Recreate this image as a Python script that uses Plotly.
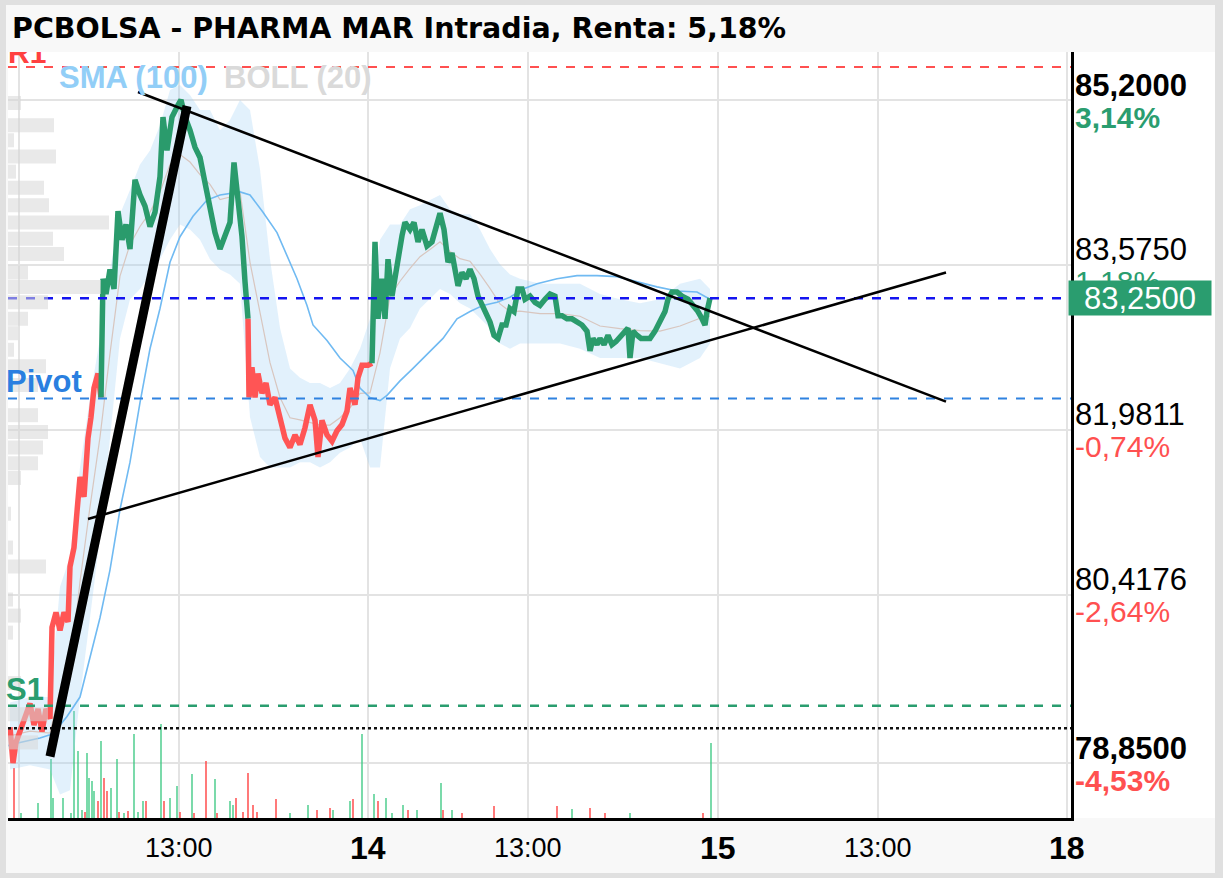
import numpy as np
import plotly.graph_objects as go

# ---------------- data (x = trading minutes since the open of day 13; one session ~524 min) ----------------
price_t = [-13.5, -9, -4.5, 1.5, 9, 16.5, 22.5, 28.5, 34.5, 40.5, 46.5, 49.5, 55.5, 61.5, 67.5, 73.5, 76.5, 82.5, 87, 91.5,
           97.5, 103.5, 108, 112.5, 118.5, 123,
           126, 130.5, 136.5, 142.5, 148.5, 154.5, 160.5, 166.5, 174, 181.5, 189, 196.5, 204, 211.5, 216, 222, 229.5, 238.5,
           243, 249, 256.5, 264, 271.5, 279, 286.5, 294, 301.5, 309, 316.5, 322.5, 328.5, 334.5, 339, 343.5,
           345, 349.5, 354, 358.5, 364.5, 370.5, 376.5, 384, 391.5, 399, 406.5, 414, 421.5, 429, 436.5, 444, 448.5, 454.5,
           462, 469.5, 477, 484.5, 492, 496.5, 504, 508.5, 514.5, 523.5, 529.5,
           531, 534, 538.5, 544.5, 549, 553.5, 559.5, 567, 574.5, 579, 586.5, 592.5, 598.5, 604.5, 612, 619.5, 625.5, 631.5,
           637.5, 643.5, 649.5, 654, 658.5, 664.5, 670.5, 676.5, 682.5, 688.5, 694.5, 700.5, 706.5, 712.5, 718.5, 724.5,
           730.5, 736.5, 742.5, 748.5, 754.5, 759, 766.5, 774, 781.5, 789, 796.5, 804, 808.5, 814.5, 822, 829.5, 837, 844.5,
           852, 856.5, 861, 867, 871.5, 877.5, 883.5, 889.5, 895.5, 901.5, 907.5, 913.5, 916.5, 921, 927, 933, 939, 946.5,
           954, 961.5, 969, 973.5, 979.5, 987, 994.5, 1003.5, 1011, 1018.5, 1024.5, 1029, 1032, 1036.5]
price = [79.18, 78.85, 79.04, 79.15, 79.28, 79.40, 79.20, 79.35, 79.14, 79.35, 79.26, 80.11, 80.25, 80.08, 80.25, 80.16,
         80.68, 80.86, 81.20, 81.53, 81.34, 81.90, 82.10, 82.38, 82.52, 82.29,
         83.44, 83.29, 83.53, 83.34, 84.10, 83.82, 83.97, 83.73, 84.41, 84.26, 84.15, 83.95, 84.09, 84.44, 85.03, 84.70,
         85.03, 85.15, 85.20, 85.03, 84.90, 84.73, 84.63, 84.38, 84.12, 83.89, 83.73, 83.85, 83.99, 84.58, 84.21, 83.85,
         83.41, 83.05,
         82.29, 82.58, 82.29, 82.52, 82.33, 82.43, 82.22, 82.29, 82.10, 81.90, 81.81, 81.93, 81.84, 82.00, 82.22, 82.07,
         81.72, 82.07, 81.93, 81.87, 81.97, 82.03, 82.16, 82.38, 82.22, 82.48, 82.60, 82.60, 82.62,
         83.02, 83.80, 83.05, 83.44, 83.05, 83.63, 83.27, 83.60, 83.86, 83.99, 83.92, 83.99, 83.80, 83.92, 83.76, 83.80,
         83.92, 84.08, 83.92, 83.60, 83.69, 83.50, 83.37, 83.50, 83.44, 83.53, 83.44, 83.27, 83.18, 83.12, 83.02, 82.89,
         82.86, 82.99, 82.99, 83.15, 83.12, 83.34, 83.34, 83.24, 83.27, 83.21, 83.18, 83.24, 83.29, 83.27, 83.08, 83.08,
         83.05, 83.05, 83.02, 82.99, 82.93, 82.74, 82.86, 82.80, 82.86, 82.80, 82.89, 82.80, 82.83, 82.88, 82.93, 82.96,
         82.67, 82.93, 82.89, 82.86, 82.86, 82.86, 82.93, 83.02, 83.12, 83.24, 83.31, 83.31, 83.27, 83.24, 83.18, 83.12,
         83.05, 82.99, 83.12, 83.25]
price_segments = [("down", 26), ("up", 34), ("down", 29), ("up", 84)]

sma_t = [-16.5, 1.5, 31.5, 46.5, 61.5, 72, 91.5, 106.5, 121.5, 136.5, 151.5, 166.5, 181.5, 196.5, 211.5, 226.5, 241.5,
         261, 282, 301.5, 331.5, 346.5, 366, 387, 402, 417, 432, 441, 462, 481.5, 501, 511.5, 526.5, 541.5, 552, 571.5,
         591, 612, 636, 657, 676.5, 696, 717, 736.5, 756, 777, 807, 837, 867, 897, 927, 957, 987, 1017, 1036.5]
sma = [79.01, 79.04, 79.08, 79.11, 79.20, 79.28, 79.46, 79.83, 80.20, 80.65, 81.22, 81.67, 82.24, 82.76, 83.15, 83.60,
       83.85, 84.05, 84.21, 84.26, 84.29, 84.26, 84.09, 83.89, 83.66, 83.44, 83.18, 82.99, 82.84, 82.67, 82.55, 82.38,
       82.29, 82.26, 82.31, 82.45, 82.57, 82.71, 82.86, 83.05, 83.12, 83.18, 83.21, 83.26, 83.34, 83.39, 83.44, 83.47,
       83.47, 83.46, 83.41, 83.36, 83.32, 83.31, 83.24]

band_t = [-13.5, 16.5, 46.5, 61.5, 76.5, 91.5, 106.5, 121.5, 136.5, 151.5, 166.5, 181.5, 196.5, 211.5, 226.5, 241.5,
          256.5, 271.5, 286.5, 301.5, 316.5, 331.5, 346.5, 361.5, 376.5, 391.5, 406.5, 421.5, 436.5, 451.5, 466.5, 481.5,
          496.5, 511.5, 526.5, 541.5, 556.5, 571.5, 586.5, 601.5, 616.5, 631.5, 646.5, 661.5, 676.5, 691.5, 706.5, 721.5,
          736.5, 751.5, 781.5, 811.5, 841.5, 871.5, 901.5, 931.5, 961.5, 991.5, 1021.5, 1036.5]
band_up = [79.41, 79.46, 79.46, 80.49, 80.77, 81.62, 82.29, 82.86, 83.53, 84.07, 84.31, 84.56, 84.70, 84.95, 85.30, 85.35,
           85.25, 85.10, 85.10, 84.90, 85.00, 85.20, 85.10, 84.51, 83.63, 82.96, 82.57, 82.48, 82.43, 82.43, 82.38, 82.43,
           82.57, 82.76, 83.05, 83.82, 83.97, 83.97, 84.12, 84.16, 84.21, 84.26, 84.12, 84.07, 84.07, 83.92, 83.73, 83.58,
           83.48, 83.44, 83.39, 83.39, 83.39, 83.29, 83.24, 83.20, 83.24, 83.39, 83.44, 83.34]
band_lo = [78.79, 78.83, 78.79, 78.56, 78.60, 79.46, 80.20, 80.96, 81.90, 82.86, 83.24, 83.34, 83.48, 83.63, 83.82, 83.97,
           83.92, 83.82, 83.63, 83.53, 83.48, 83.39, 82.10, 81.72, 81.62, 81.62, 81.62, 81.67, 81.67, 81.62, 81.67, 81.76,
           81.81, 81.90, 81.62, 81.62, 82.57, 82.86, 82.96, 83.15, 83.24, 83.34, 83.29, 83.20, 83.15, 83.05, 82.96, 82.81,
           82.76, 82.81, 82.81, 82.81, 82.76, 82.67, 82.67, 82.67, 82.62, 82.57, 82.67, 82.81]

vol_t = [-7.5, 3, 28.5, 48, 51, 66, 78, 82.5, 88.5, 94.5, 99, 102, 105, 109.5, 112.5, 118.5, 123, 127.5, 132, 138, 147,
         150, 157.5, 163.5, 172.5, 178.5, 186, 190.5, 213, 217.5, 226.5, 237, 241.5, 259.5, 262.5, 280.5, 294, 297, 316.5,
         321, 325.5, 336, 343.5, 351, 357, 385.5, 406.5, 433.5, 447, 466.5, 471, 496.5, 501, 514.5, 532.5, 538.5, 550.5,
         559.5, 576, 583.5, 597, 633, 636, 649.5, 664.5, 712.5, 807, 829.5, 856.5, 879, 916.5, 1026, 1038]
vol = [50, 5, 15, 59, 20, 20, 5, 107, 67, 8, 6, 65, 40, 37, 27, 17, 77, 40, 27, 30, 59, 6, 5, 7, 84, 6, 17, 17, 94, 17, 20,
       32, 6, 44, 5, 57, 39, 5, 17, 13, 20, 6, 45, 13, 6, 19, 5, 13, 8, 10, 8, 17, 19, 84, 24, 17, 20, 5, 13, 8, 8, 35, 8,
       8, 5, 12, 12, 9, 10, 5, 5, 5, 75]
vol_dir = ["d", "u", "u", "u", "u", "u", "u", "u", "u", "u", "d", "u", "u", "u", "u", "d", "u", "d", "d", "u", "u", "d",
           "u", "d", "u", "u", "u", "d", "u", "d", "u", "u", "d", "u", "d", "d", "u", "d", "u", "u", "d", "d", "d", "d",
           "d", "d", "u", "u", "d", "d", "u", "u", "d", "u", "u", "d", "u", "u", "u", "d", "u", "u", "d", "u", "d", "d",
           "d", "u", "d", "d", "u", "d", "u"]

profile_price = [85.17, 84.95, 84.80, 84.64, 84.49, 84.33, 84.16, 83.99, 83.83, 83.68, 83.50, 83.36, 83.21, 83.05, 82.91,
                 82.75, 82.59, 82.41, 82.12, 81.96, 81.81, 81.66, 81.52, 81.18, 80.86, 80.68, 80.37, 80.22, 80.06, 79.59,
                 79.30, 79.04]
profile_vol = [13, 46, 6, 48, 8, 36, 41, 101, 45, 56, 20, 93, 40, 20, 10, 6, 38, 30, 30, 40, 35, 30, 13, 3, 5, 38, 5, 13,
               5, 13, 40, 30]

level_r1 = 85.53
level_last = 83.25
level_pivot = 82.28
level_s1 = 79.38
level_open = 79.17
prev_close_pct_labels = ["3,14%", "1,18%", "-0,74%", "-2,64%", "-4,53%"]
grid_prices = [85.2, 83.575, 81.9811, 80.4176, 78.85]

# trend lines drawn on the chart: (t0, p0, t1, p1, width)
trend_lines = [(46.5, 78.91, 252, 85.14, 9), (178.5, 85.28, 1390.5, 82.25, 2.5), (103.5, 81.13, 1390.5, 83.50, 2.5)]

x_label_t = [240, 524, 764, 1048, 1288, 1572]
x_label_text = ["13:00", "14", "13:00", "15", "13:00", "18"]
x_grid_t = [0, 240, 524, 764, 1048, 1288, 1572]

title_text = "PCBOLSA - PHARMA MAR Intradia, Renta: 5,18%"

# ---------------- styling ----------------
GREEN = "#2a9b6c"
RED = "#ff5555"
W, H = 1223, 878
L, R, T, B = 8, 152, 52, 60
PW, PH = W - L - R, H - T - B

def px_x(px):
    return (px - L) / PW

def px_y(py):
    return (H - B - py) / PH

fig = go.Figure()

# volume (base subplot)
for d, col in (("u", "rgba(60,200,130,0.85)"), ("d", "rgba(255,70,70,0.9)")):
    xs = [t for t, k in zip(vol_t, vol_dir) if k == d]
    ys = [v for v, k in zip(vol, vol_dir) if k == d]
    fig.add_trace(go.Bar(x=xs, y=ys, width=2.4, marker=dict(color=col, line=dict(width=0)),
                         xaxis="x", yaxis="y", hoverinfo="skip"))

# Bollinger band
fig.add_trace(go.Scatter(x=band_t, y=band_lo, mode="lines", line=dict(width=0, color="rgba(0,0,0,0)"),
                         xaxis="x", yaxis="y2", hoverinfo="skip"))
fig.add_trace(go.Scatter(x=band_t, y=band_up, mode="lines", line=dict(width=0, color="rgba(0,0,0,0)"),
                         fill="tonexty", fillcolor="rgba(150,205,245,0.28)", xaxis="x", yaxis="y2", hoverinfo="skip"))
band_mid = [(a + b) / 2 for a, b in zip(band_up, band_lo)]
fig.add_trace(go.Scatter(x=band_t, y=band_mid, mode="lines", line=dict(width=1.2, color="#d8c6bf"),
                         xaxis="x", yaxis="y2", hoverinfo="skip"))
# SMA
fig.add_trace(go.Scatter(x=sma_t, y=sma, mode="lines", line=dict(width=1.6, color="#70baf2"),
                         xaxis="x", yaxis="y2", hoverinfo="skip"))

# price coloured segments
start = 0
for direction, n in price_segments:
    i0 = max(start - 1, 0)
    i1 = start + n
    fig.add_trace(go.Scatter(x=price_t[i0:i1], y=price[i0:i1], mode="lines",
                             line=dict(width=5.5, color=GREEN if direction == "up" else RED),
                             xaxis="x", yaxis="y2", hoverinfo="skip"))
    start = i1

# horizontal levels
xr = [-16.5, 1578]
for lvl, col, dash, w in ((level_r1, "#ff5050", "dash", 2), (level_last, "#1414f0", "dash", 2.5),
                          (level_pivot, "#2f82e0", "dash", 2), (level_s1, "#2a9d6f", "dash", 2.5),
                          (level_open, "#111111", "dot", 2.5)):
    fig.add_trace(go.Scatter(x=xr, y=[lvl, lvl], mode="lines", line=dict(color=col, dash=dash, width=w),
                             xaxis="x", yaxis="y2", hoverinfo="skip"))

# trend lines
for t0, p0, t1, p1, w in trend_lines:
    fig.add_trace(go.Scatter(x=[t0, t1], y=[p0, p1], mode="lines", line=dict(color="black", width=w),
                             xaxis="x", yaxis="y2", hoverinfo="skip"))

# volume profile
px_, py_ = [], []
for p, v in zip(profile_price, profile_vol):
    px_ += [0, v, None]
    py_ += [p, p, None]
fig.add_trace(go.Scatter(x=px_, y=py_, mode="lines", line=dict(color="rgba(215,215,215,0.55)", width=14),
                         xaxis="x2", yaxis="y2", hoverinfo="skip"))

# R1 label (its upper part is hidden by the title strip)
fig.add_trace(go.Scatter(x=[0], y=[85.64], mode="text", text=["<b>R1</b>"], textposition="middle right",
                         textfont=dict(color="#ff4040", size=30, family="Liberation Sans"),
                         xaxis="x2", yaxis="y2", cliponaxis=True, hoverinfo="skip"))

ymin_log, ymax_log = 1.894012, 1.932875

fig.update_layout(
    width=W, height=H, margin=dict(l=L, r=R, t=T, b=B),
    paper_bgcolor="#f8f8f8", plot_bgcolor="white", showlegend=False, barmode="overlay",
    xaxis=dict(range=xr, tickvals=x_grid_t, showticklabels=False, ticks="", showgrid=True,
               gridcolor="#e3e3e3", gridwidth=2, zeroline=False, showline=True, linecolor="black", linewidth=3),
    yaxis=dict(range=[0, PH], visible=False, showgrid=False, zeroline=False),
    yaxis2=dict(type="log", range=[ymin_log, ymax_log], overlaying="y", side="right", tickvals=grid_prices,
                showticklabels=False, ticks="", showgrid=True, gridcolor="#e3e3e3", gridwidth=2,
                zeroline=False, showline=True, linecolor="black", linewidth=3),
    xaxis2=dict(range=[0, PW], overlaying="x", anchor="y2", visible=False),
)

shapes = []
FRAME = "#e0e0e0"
shapes.append(dict(type="rect", xref="paper", yref="paper", x0=px_x(1071), x1=px_x(1215), y0=px_y(818), y1=px_y(52),
                   fillcolor="white", line=dict(width=0), layer="below"))
# title strip drawn above traces so that it hides what pokes out of the plot top
shapes.append(dict(type="rect", xref="paper", yref="paper", x0=px_x(6), x1=px_x(1215), y0=px_y(52), y1=px_y(5),
                   fillcolor="#f8f8f8", line=dict(width=0), layer="above"))
for (x0, x1, y0, y1) in ((0, 6, 0, H), (1215, W, 0, H), (0, W, 0, 5), (0, W, 873, H)):
    shapes.append(dict(type="rect", xref="paper", yref="paper", x0=px_x(x0), x1=px_x(x1), y0=px_y(y1), y1=px_y(y0),
                       fillcolor=FRAME, line=dict(width=0), layer="above"))
fig.update_layout(shapes=shapes)

LAB = "Liberation Sans"
ann = []
ann.append(dict(xref="paper", yref="paper", x=0, y=1, xanchor="left", yanchor="middle", xshift=2, yshift=24,
                text="<b>" + title_text + "</b>", showarrow=False,
                font=dict(family="DejaVu Sans", size=28.5, color="black")))
ann.append(dict(xref="paper", yref="paper", x=0, y=1, xanchor="left", yanchor="middle", xshift=49, yshift=-25,
                text="<b>SMA (100)</b>", showarrow=False, font=dict(family=LAB, size=31, color="#92cef7")))
ann.append(dict(xref="paper", yref="paper", x=0, y=1, xanchor="left", yanchor="middle", xshift=214, yshift=-25,
                text="<b>BOLL (20)</b>", showarrow=False, font=dict(family=LAB, size=31, color="#dadada")))
ann.append(dict(xref="paper", yref="y2", x=0, y=np.log10(level_pivot), xanchor="left", yanchor="middle", xshift=-4,
                yshift=17, text="<b>Pivot</b>", showarrow=False, font=dict(family=LAB, size=31, color="#2a7fe0")))
ann.append(dict(xref="paper", yref="y2", x=0, y=np.log10(level_s1), xanchor="left", yanchor="middle", xshift=-4,
                yshift=16, text="<b>S1</b>", showarrow=False, font=dict(family=LAB, size=31, color="#2a9d6f")))

for i, (v, pct) in enumerate(zip(grid_prices, prev_close_pct_labels)):
    bold = i in (0, len(grid_prices) - 1)
    vs = f"{v:.4f}".replace(".", ",")
    col = "#2a9d6f" if not pct.startswith("-") else "#ff5050"
    ann.append(dict(xref="paper", yref="y2", x=1, y=np.log10(v), xanchor="left", yanchor="middle", xshift=2, yshift=15,
                    text=f"<b>{vs}</b>" if bold else vs, showarrow=False,
                    font=dict(family=LAB, size=31, color="black")))
    ann.append(dict(xref="paper", yref="y2", x=1, y=np.log10(v), xanchor="left", yanchor="middle", xshift=2, yshift=-17,
                    text=f"<b>{pct}</b>" if bold else pct, showarrow=False,
                    font=dict(family=LAB, size=30, color=col)))

ann.append(dict(xref="paper", yref="y2", x=1, y=np.log10(level_last), xanchor="left", yanchor="middle", xshift=-3,
                text=f"{level_last:.4f}".replace(".", ","), showarrow=False, bgcolor="#2a9d6f", width=140, height=32,
                align="center", font=dict(family=LAB, size=31, color="white")))

for t, s in zip(x_label_t, x_label_text):
    is_day = ":" not in s
    ann.append(dict(xref="x", yref="paper", x=t, y=0, xanchor="center", yanchor="middle", yshift=-30,
                    text=f"<b>{s}</b>" if is_day else s, showarrow=False,
                    font=dict(family=LAB, size=32 if is_day else 27, color="black")))
fig.update_layout(annotations=ann)

fig.write_html("out.html", config={"displayModeBar": False},
               post_script="document.body.style.margin='0';document.body.style.padding='0';")
